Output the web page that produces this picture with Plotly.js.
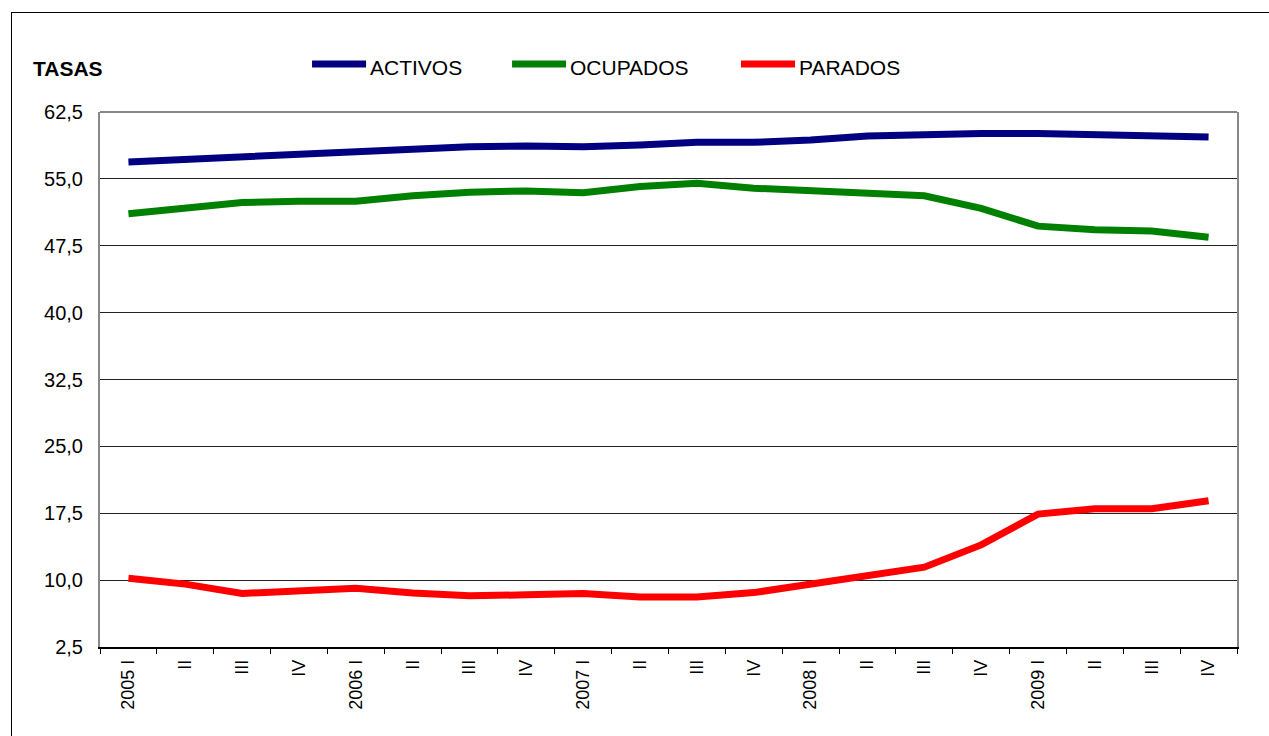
<!DOCTYPE html>
<html>
<head>
<meta charset="utf-8">
<script src="https://cdn.plot.ly/plotly-3.0.1.min.js"></script>
<style>
  html, body { margin: 0; padding: 0; background: #fff; }
  #frame { position: absolute; left: 11px; top: 12px; width: 1300px; height: 800px; border: 1px solid #000; }
  #chart { position: absolute; left: 0; top: 0; width: 1269px; height: 736px; }
</style>
</head>
<body>
<div id="frame"></div>
<div id="chart"></div>
<script>
const quarters = ["2005 I","2005 II","2005 III","2005 IV","2006 I","2006 II","2006 III","2006 IV",
  "2007 I","2007 II","2007 III","2007 IV","2008 I","2008 II","2008 III","2008 IV",
  "2009 I","2009 II","2009 III","2009 IV"];
const tickLabels = ["2005 I","II","III","IV","2006 I","II","III","IV","2007 I","II","III","IV",
  "2008 I","II","III","IV","2009 I","II","III","IV"];
const seriesNames = ["ACTIVOS","OCUPADOS","PARADOS"];
const activos = [56.9,57.2,57.4,57.7,58.0,58.4,58.6,58.7,58.6,58.8,59.1,59.1,59.35,59.8,60.0,60.1,60.1,60.0,59.8,59.7];
const ocupados = [51.1,51.8,52.35,52.5,52.5,53.1,53.5,53.65,53.45,54.15,54.5,53.95,53.65,53.45,53.1,51.7,49.7,49.3,49.15,48.45];
const parados = [10.2,9.55,8.5,8.8,9.1,8.55,8.25,8.35,8.5,8.1,8.1,8.6,9.55,10.35,11.45,13.95,17.4,18.0,18.0,18.9];
const yTicks = [2.5,10,17.5,25,32.5,40,47.5,55,62.5];

const colors = ["#000080","#008000","#FF0000"];
const values = [activos, ocupados, parados];

const traces = values.map((v, i) => ({
  type: "scatter", mode: "lines", name: seriesNames[i],
  x: quarters, y: v,
  line: {color: colors[i], width: 7},
  showlegend: false, hoverinfo: "skip"
}));

// manual legend (line swatches + labels) in paper coordinates
const legX = [0.1865, 0.3624, 0.5638];
const legLen = 0.0475;
const legY = 1.0897;
const legTextY = 1.084;
const shapes = [
  {type: "line", xref: "paper", yref: "paper", x0: 0, x1: 1, y0: 1, y1: 1,
   line: {color: "#888888", width: 2}, layer: "above"}
];
const annotations = [
  {xref: "paper", yref: "paper", x: -0.061, y: 1.081, xanchor: "left", yanchor: "middle",
   text: "<b>TASAS</b>", showarrow: false, font: {family: "Liberation Sans, Arial", size: 21, color: "#000"}}
];
seriesNames.forEach((n, i) => {
  shapes.push({type: "line", xref: "paper", yref: "paper", x0: legX[i], x1: legX[i] + legLen,
    y0: legY, y1: legY, line: {color: colors[i], width: 7}});
  annotations.push({xref: "paper", yref: "paper", x: legX[i] + legLen + 0.002, y: legTextY,
    xanchor: "left", yanchor: "middle", text: n, showarrow: false,
    font: {family: "Liberation Sans, Arial", size: 21, color: "#000"}});
});

const layout = {
  width: 1269, height: 736,
  margin: {l: 100, r: 32, t: 112, b: 89},
  paper_bgcolor: "rgba(0,0,0,0)", plot_bgcolor: "#fff",
  separators: ",.",
  showlegend: false,
  font: {family: "Liberation Sans, Arial", color: "#000"},
  xaxis: {
    type: "category", categoryorder: "array", categoryarray: quarters,
    tickmode: "array", tickvals: quarters, ticktext: tickLabels,
    tickson: "boundaries", ticks: "outside", ticklen: 5, tickcolor: "#000", tickwidth: 1,
    tickangle: -90, tickfont: {size: 18, color: "#000"}, ticklabelstandoff: 4,
    showgrid: false, showline: true, linecolor: "#000", linewidth: 1.5,
    zeroline: false, range: [-0.5, 19.5]
  },
  yaxis: {
    range: [2.5, 62.5], tickmode: "array", tickvals: yTicks, tickformat: ".1f",
    tickfont: {size: 20, color: "#000"}, ticks: "", ticklabelstandoff: 11,
    showgrid: true, gridcolor: "#222", gridwidth: 1,
    showline: true, linecolor: "#888888", linewidth: 2, mirror: true, zeroline: false
  },
  shapes: shapes,
  annotations: annotations
};

Plotly.newPlot("chart", traces, layout, {staticPlot: true, displayModeBar: false});
</script>
</body>
</html>
